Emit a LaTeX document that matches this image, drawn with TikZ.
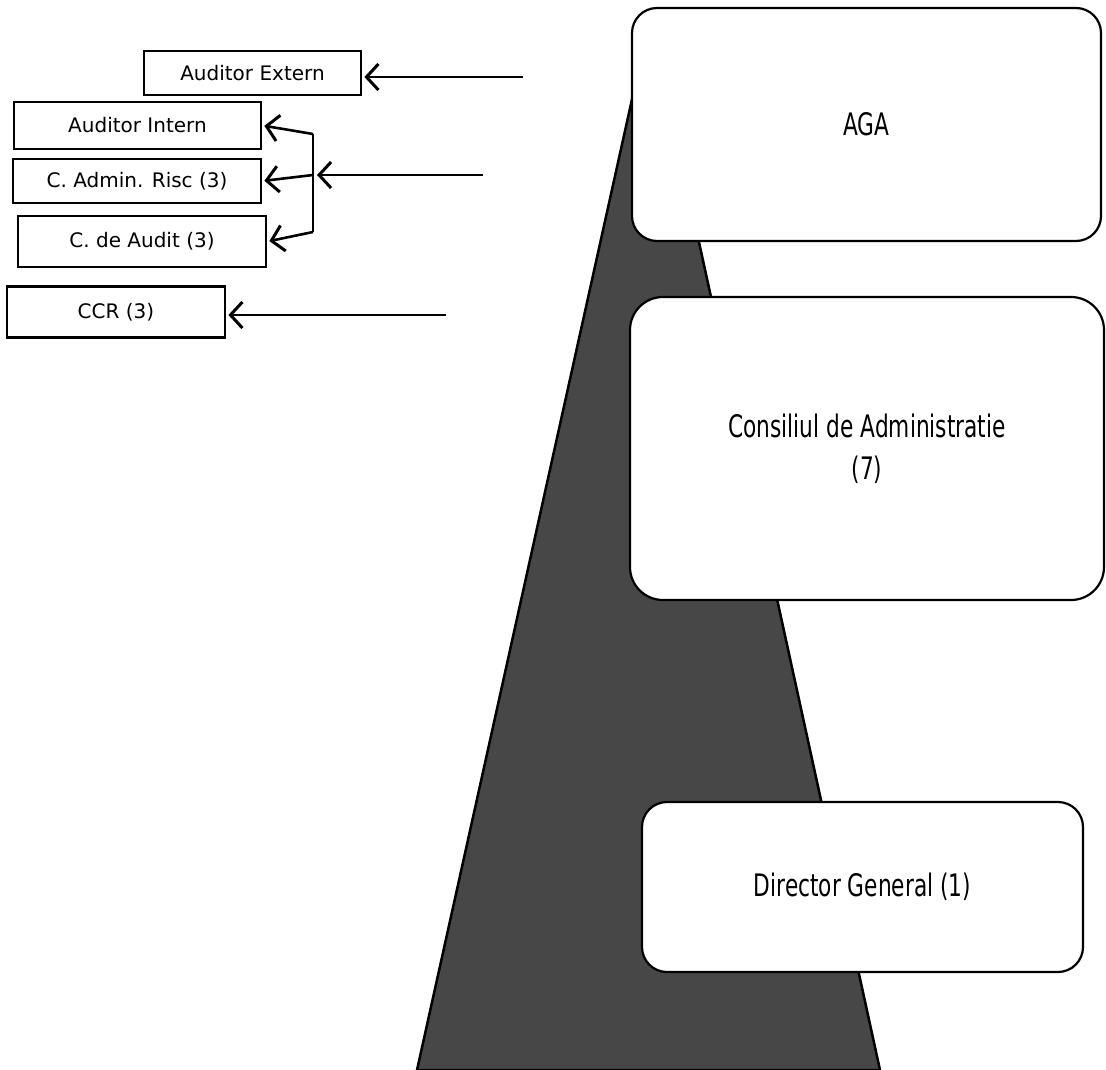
\documentclass[tikz,border=0pt]{standalone}
\usepackage{fontspec}
\setmainfont{DejaVu Sans}
\newfontfamily\boardfont{DejaVu Sans}[FakeStretch=0.70]
\usetikzlibrary{positioning, calc, arrows.meta}

\begin{document}
\begin{tikzpicture}[x=1pt, y=-1pt,
		bigbox/.style={draw, line width=2.2pt, fill=white, inner sep=0pt, align=center,
			font=\boardfont\fontsize{31}{42}\selectfont},
		smallbox/.style={draw, line width=2.8pt, fill=white, inner sep=0pt,
			font=\fontsize{20}{24}\selectfont},
		barb/.style={line width=2.6pt, -{Straight Barb[length=12pt, width=26pt, line width=3pt]}}]
			\useasboundingbox (0,0) rectangle (1106,1070);
			
			% dark triangle behind the boards
			\filldraw[fill=black!72, draw=black, line width=2.5pt] (650,18) -- (880,1070) -- (417,1070) -- cycle;
			
			\node[bigbox, rounded corners=25pt, minimum width=469pt, minimum height=233pt] (aga) at (866.5,124.5) {AGA};
			\node[bigbox, rounded corners=33pt, minimum width=474pt, minimum height=303pt] (ca) at (867,448.5) {Consiliul de Administratie\\(7)};
			\node[bigbox, rounded corners=25pt, minimum width=441pt, minimum height=170pt] (dg) at (862.5,887) {Director General (1)};
			
			\node[smallbox, minimum width=217pt, minimum height=44pt] (ae)  at (252.5,73)  {Auditor Extern};
			\node[smallbox, minimum width=247pt, minimum height=47pt] (ai)  at (137.5,125.5) {Auditor Intern};
			\node[smallbox, minimum width=248pt, minimum height=44pt] (car) at (137,181)  {C. Admin. Risc (3)};
			\node[smallbox, minimum width=248pt, minimum height=51pt] (cda) at (142,241.5) {C. de Audit (3)};
			\node[smallbox, minimum width=218pt, minimum height=51pt] (ccr) at (116,312)  {CCR (3)};
			
			\coordinate (aesrc)  at (523,77);
			\coordinate (midsrc) at (483,175);
			\coordinate (ccrsrc) at (446,315);
			\coordinate (brtop)  at (313,134);
			\coordinate (brmid)  at (313,175);
			\coordinate (brbot)  at (313,232);
			
			\draw[barb, shorten >=2pt] (aesrc) -- (aesrc -| ae.east);
			\draw[barb, shorten >=4pt] (midsrc) -- (brmid);
			\draw[barb, shorten >=2pt] (ccrsrc) -- (ccrsrc -| ccr.east);
			\draw[line width=2.6pt] (brtop) -- (brbot);
			\draw[barb, shorten >=2pt] (brtop) -- (ai.east);
			\draw[barb, shorten >=2pt] (brmid) -- (car.east);
			\draw[barb, shorten >=2pt] (brbot) -- (cda.east);
		\end{tikzpicture}
\end{document}
